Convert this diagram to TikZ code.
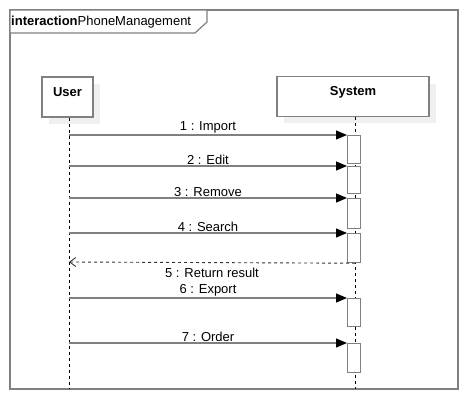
\documentclass[tikz,border=0pt]{standalone}
\usepackage{fontspec}
\setmainfont{Liberation Sans}
\usetikzlibrary{arrows.meta}
\definecolor{linegray}{RGB}{128,128,128}
\definecolor{shadowgray}{RGB}{240,240,240}
\tikzset{
  lifebox/.style={draw=linegray, line width=1.2pt, fill=white, minimum height=40pt, inner sep=0pt, text=black, font=\fontsize{13}{15}\selectfont\bfseries},
  actbar/.style={draw=linegray, line width=1.2pt, fill=white, minimum width=13pt, inner sep=0pt, anchor=north west},
  lifeline/.style={black, line width=0.8pt, dash pattern=on 3pt off 3pt},
  msg/.style={linegray, line width=1.2pt, -{Triangle[length=11pt,width=9pt,color=black]}},
  reply/.style={black!80, line width=0.9pt, dash pattern=on 3pt off 3pt, -{Straight Barb[length=6pt,width=9pt]}},
  msglabel/.style={text=black, font=\fontsize{13}{15}\selectfont, inner sep=1pt}
}
\begin{document}
\begin{tikzpicture}[x=1pt,y=-1pt, font=\fontsize{13}{15}\selectfont]
\useasboundingbox (0,0) rectangle (468,400);

% frame
\draw[linegray, line width=1.5pt] (10,10) rectangle (458,389);
\draw[linegray, line width=1.2pt, fill=white] (10,10) -- (207,10) -- (207,22) -- (195,33) -- (10,33) -- cycle;
\node[anchor=west, inner sep=0pt] (title) at (11,22) {\textbf{interaction}PhoneManagement};

% lifeline heads
\fill[shadowgray] (49,84) rectangle (100,124);
\fill[shadowgray] (284,84) rectangle (436,123);
\node[lifebox, minimum width=51pt] (user) at (67.5,97) {};
\node[lifebox, minimum width=152pt] (system) at (353,96.5) {};
\node[lifebox, draw=none, fill=none, minimum height=0pt] at (67.5,92) {User};
\node[lifebox, draw=none, fill=none, minimum height=0pt] at (353,92) {System};

\coordinate (userend) at (69,389);
\coordinate (sysend) at (355,389);
\draw[lifeline] (user.south -| userend) -- (userend);
\draw[lifeline] (system.south -| sysend) -- (sysend);

% activations
\node[actbar, minimum height=28pt] (b1) at (347,135) {};
\node[actbar, minimum height=27pt] (b2) at (347,166) {};
\node[actbar, minimum height=30pt] (b3) at (347,198) {};
\node[actbar, minimum height=29pt] (b4) at (347,233) {};
\node[actbar, minimum height=28pt] (b6) at (347,298) {};
\node[actbar, minimum height=29pt] (b7) at (347,343) {};

% points on the user lifeline
\coordinate (u1) at (69,135);
\coordinate (u2) at (69,166);
\coordinate (u3) at (69,198);
\coordinate (u4) at (69,233);
\coordinate (u5) at (69,262);
\coordinate (u6) at (69,298);
\coordinate (u7) at (69,343);

% messages
\draw[msg] (u1) -- node[msglabel, above] {1 : Import} (b1.north west);
\draw[msg] (u2) -- node[msglabel, above] {2 : Edit} (b2.north west);
\draw[msg] (u3) -- node[msglabel, above] {3 : Remove} (b3.north west);
\draw[msg] (u4) -- node[msglabel, above] {4 : Search} (b4.north west);
\draw[reply] (b4.south -| sysend) -- node[msglabel, below=4pt] {5 : Return result} (u5);
\draw[msg] (u6) -- node[msglabel, above] {6 : Export} (b6.north west);
\draw[msg] (u7) -- node[msglabel, above] {7 : Order} (b7.north west);
\end{tikzpicture}
\end{document}
